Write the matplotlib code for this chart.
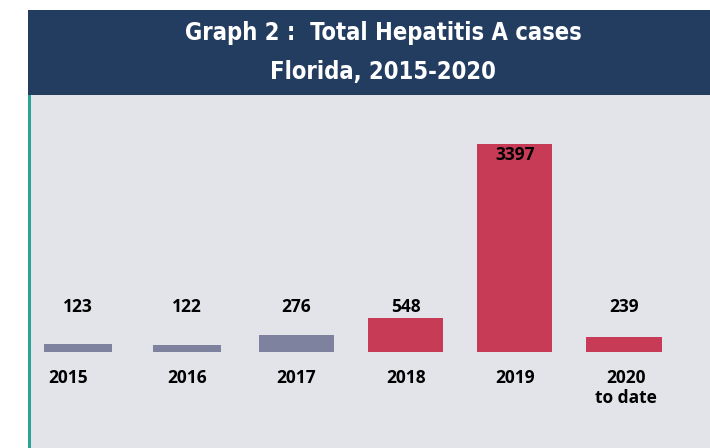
import matplotlib
matplotlib.use("Agg")
import matplotlib.pyplot as plt
from matplotlib.patches import Rectangle

years = ["2015", "2016", "2017", "2018", "2019", "2020\nto date"]
cases = [123, 122, 276, 548, 3397, 239]
bar_colors = ["#7f829e", "#7f829e", "#7f829e", "#c83b57", "#c83b57", "#c83b57"]
bar_widths = [0.62, 0.62, 0.69, 0.69, 0.69, 0.69]
title_lines = ["Graph 2 :  Total Hepatitis A cases", "Florida, 2015-2020"]

W, H = 710, 448
fig = plt.figure(figsize=(W / 100, H / 100), dpi=100)
fig.patch.set_facecolor("white")

def fx(px):
    return px / W

def fy(py):
    return 1 - py / H

# gray plot background
fig.patches.append(Rectangle((fx(30), 0), fx(680), fy(95), transform=fig.transFigure,
                             facecolor="#e3e4ea", edgecolor="none", zorder=-2))
# teal left line
fig.patches.append(Rectangle((fx(28), 0), fx(2.5), fy(95), transform=fig.transFigure,
                             facecolor="#2aa595", edgecolor="none", zorder=-1))
# banner
fig.patches.append(Rectangle((fx(28), fy(95)), fx(682), fy(10) - fy(95), transform=fig.transFigure,
                             facecolor="#233d61", edgecolor="none", zorder=-1))

tfam = ["DejaVu Sans"]
fig.text(fx(383), fy(33), title_lines[0], ha="center", va="center", color="white",
         fontsize=17, fontweight="bold", family=tfam, fontstretch="condensed")
fig.text(fx(383), fy(72), title_lines[1], ha="center", va="center", color="white",
         fontsize=17, fontweight="bold", family=tfam, fontstretch="condensed")

# axes covering gray area
ax = fig.add_axes([fx(30), 0, fx(680), fy(95)])
ax.set_zorder(5)
ax.set_facecolor("none")
scale = 0.0612  # px per case
baseline_px = 352
ax_h = 448 - 95
ymin = -(448 - baseline_px) / scale
ymax = ymin + ax_h / scale
spacing = 109.2
x0 = 48
xmin = -x0 / spacing
xmax = xmin + 680 / spacing
ax.set_xlim(xmin, xmax)
ax.set_ylim(ymin, ymax)
ax.axis("off")

xs = list(range(len(years)))
ax.bar(xs, cases, width=bar_widths, color=bar_colors, zorder=2)

font = "Open Sans"
label_y = (baseline_px - 307) / scale
for x, v in zip(xs, cases):
    if v > 2000:
        ax.text(x, v - 11 / scale, str(v), ha="center", va="center", fontsize=12.5,
                fontweight="bold", family=font, color="black", zorder=3)
    else:
        ax.text(x, label_y, str(v), ha="center", va="center", fontsize=12.5,
                fontweight="bold", family=font, color="black", zorder=3)

year_y = (baseline_px - 369) / scale
year_dx = [-0.09, 0, 0, 0, 0, 0.02]
for x, y, d in zip(xs, years, year_dx):
    ax.text(x + d, year_y, y, ha="center", va="top", fontsize=12.5, fontweight="bold",
            family=font, color="black", linespacing=1.15, zorder=3)

fig.savefig("out.png", dpi=100)
